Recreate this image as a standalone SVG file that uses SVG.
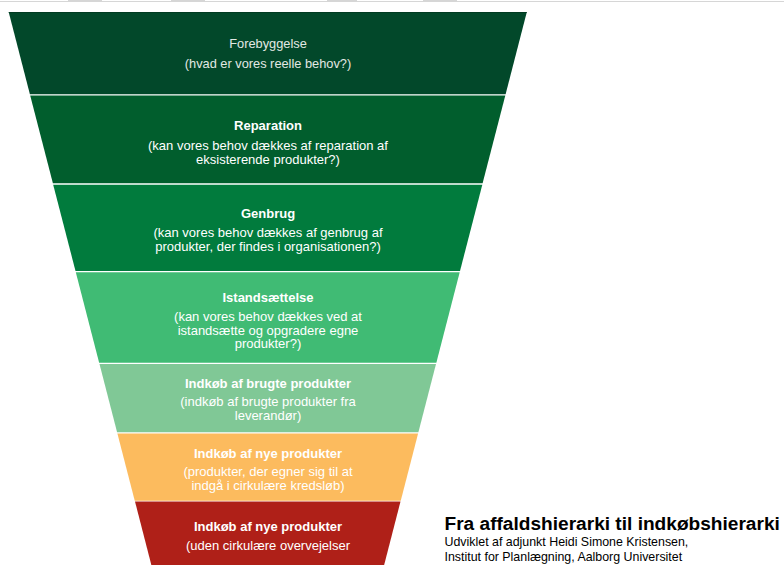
<svg xmlns="http://www.w3.org/2000/svg" width="784" height="565" viewBox="0 0 784 565">
<style>
.t{font-family:"Liberation Sans",Arial,sans-serif;font-size:13px;fill:#ffffff;text-anchor:middle}
.b{font-weight:bold}
.f{font-size:12.8px;fill:#e2e9e4}
.h{font-family:"Liberation Sans",Arial,sans-serif;fill:#000000}
</style>
<rect x="0" y="0" width="784" height="565" fill="#ffffff"/>
<g id="topbar" fill="#d6d6d6">
<rect x="0" y="1" width="784" height="1"/>
<rect x="68" y="0" width="34" height="2"/>
<rect x="171" y="0" width="34" height="2"/>
<rect x="327" y="0" width="30" height="2"/>
<rect x="423" y="0" width="34" height="2"/>
</g>
<g id="level1">
<polygon points="8.75,12.3 526.75,12.3 505.6,94.3 29.9,94.3" fill="#02482a"/>
<rect x="8.75" y="12" width="518" height="1" fill="#013a21"/>
<text class="t f" x="268" y="48.3">Forebyggelse</text>
<text class="t f" x="268" y="68.3">(hvad er vores reelle behov?)</text>
</g>
<g id="level2">
<polygon points="30.2,95.5 505.3,95.5 482.6,183.3 52.9,183.3" fill="#015e2d"/>
<text class="t b" x="268" y="130">Reparation</text>
<text class="t" x="268" y="149.5">(kan vores behov dækkes af reparation af</text>
<text class="t" x="268" y="163.8">eksisterende produkter?)</text>
</g>
<g id="level3">
<polygon points="53.2,184.7 482.3,184.7 460,271 75.5,271" fill="#017b3d"/>
<text class="t b" x="268" y="218">Genbrug</text>
<text class="t" x="268" y="237.2">(kan vores behov dækkes af genbrug af</text>
<text class="t" x="268" y="250.8">produkter, der findes i organisationen?)</text>
</g>
<g id="level4">
<polygon points="75.8,272.2 459.7,272.2 436.35,362.7 99.15,362.7" fill="#40bb74"/>
<text class="t b" x="268" y="301.5">Istandsættelse</text>
<text class="t" x="268" y="321.2">(kan vores behov dækkes ved at</text>
<text class="t" x="268" y="334.8">istandsætte og opgradere egne</text>
<text class="t" x="268" y="348.3">produkter?)</text>
</g>
<g id="level5">
<polygon points="99.5,364 436,364 418.4,432.3 117.1,432.3" fill="#80c896"/>
<text class="t b" x="268" y="387.5">Indkøb af brugte produkter</text>
<text class="t" x="268" y="406">(indkøb af brugte produkter fra</text>
<text class="t" x="268" y="420">leverandør)</text>
</g>
<g id="level6">
<polygon points="117.4,433.5 418.1,433.5 400.75,500.7 134.75,500.7" fill="#fcbb5e"/>
<text class="t b" x="268" y="457.5">Indkøb af nye produkter</text>
<text class="t" x="268" y="476">(produkter, der egner sig til at</text>
<text class="t" x="268" y="489.5">indgå i cirkulære kredsløb)</text>
</g>
<g id="level7">
<polygon points="135,501.5 400.5,501.5 384.15,565 151.35,565" fill="#af2018"/>
<text class="t b" x="268" y="531">Indkøb af nye produkter</text>
<text class="t" x="268" y="549.5">(uden cirkulære overvejelser</text>
</g>
<g id="caption">
<text class="h" x="444.5" y="530" font-size="19.1" font-weight="bold">Fra affaldshierarki til indkøbshierarki</text>
<text class="h" x="444.5" y="545.7" font-size="12.4">Udviklet af adjunkt Heidi Simone Kristensen,</text>
<text class="h" x="444.5" y="561" font-size="12.4">Institut for Planlægning, Aalborg Universitet</text>
</g>
<g id="connectors"></g>
</svg>
